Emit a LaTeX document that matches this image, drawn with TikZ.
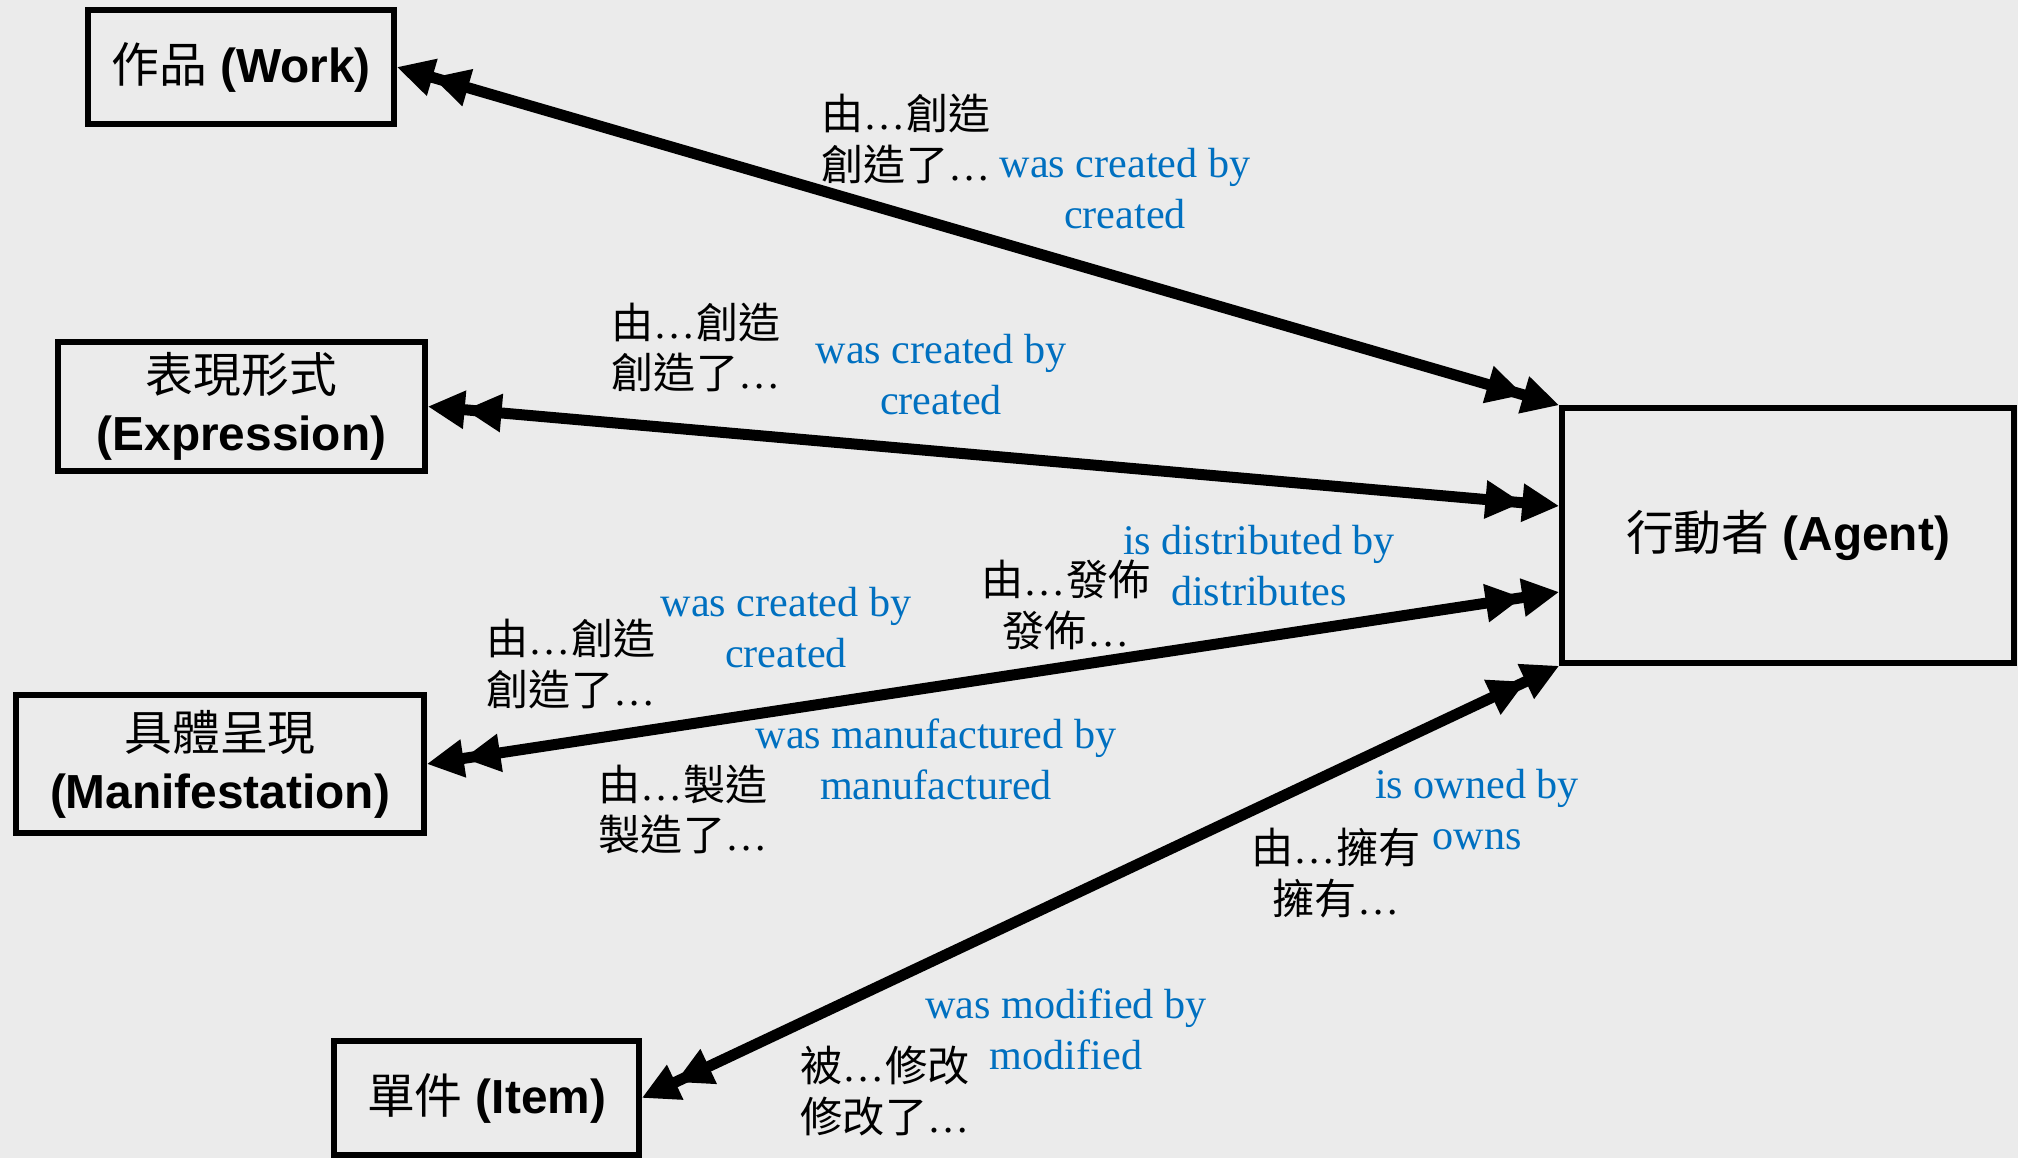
\documentclass[tikz,border=0pt]{standalone}
\usepackage{fontspec}
\setmainfont{Liberation Serif}
\setsansfont{Liberation Sans}
\newfontfamily\cjk{Noto Sans CJK TC}
\usetikzlibrary{arrows.meta}
\definecolor{paper}{RGB}{235,235,235}
\definecolor{relblue}{RGB}{0,112,192}
\newcommand\zh[1]{{\cjk\mdseries #1}}
\tikzset{
  >={Triangle[length=3.7mm,width=3.6mm]},
  entity/.style={draw,line width=0.55mm,inner sep=0pt,align=center,
    font=\sffamily\bfseries\fontsize{13.6}{16.5}\selectfont},
  rel/.style={<<->>,line width=1.1mm},
  zh label/.style={inner sep=0pt,align=#1,font=\fontsize{12}{14.5}\selectfont},
  zh label/.default=left,
  en label/.style={inner sep=0pt,align=center,text=relblue,font=\fontsize{12}{14.5}\selectfont},
}

\begin{document}
\begin{tikzpicture}
    \fill[paper,use as bounding box] (0,0) rectangle (20.18,-11.58);
    % entities
    \node[entity,minimum width=3.06cm,minimum height=1.14cm] (work) at (2.41,-0.67) {\zh{作品} (Work)};
    \node[entity,minimum width=3.67cm,minimum height=1.29cm] (expr) at (2.415,-4.065) {\zh{表現形式}\\(Expression)};
    \node[entity,minimum width=4.08cm,minimum height=1.38cm] (mani) at (2.20,-7.64) {\zh{具體呈現}\\(Manifestation)};
    \node[entity,minimum width=3.05cm,minimum height=1.14cm] (item) at (4.865,-10.98) {\zh{單件} (Item)};
    \node[entity,minimum width=4.52cm,minimum height=2.55cm] (agent) at (17.88,-5.355) {\zh{行動者} (Agent)};
    % relationships
    \draw[rel] (work.east) -- (agent.north west);
    \draw[rel] (expr.east) -- ([yshift=2.95mm]agent.west);
    \draw[rel] (mani.east) -- ([yshift=-5.65mm]agent.west);
    \draw[rel] (item.east) -- (agent.south west);
    % labels
    \node[zh label,anchor=west] (wrkzh) at (8.21,-1.395) {\zh{由}…\zh{創造}\\\zh{創造了}…};
    \node[en label] (wrken) at (11.25,-1.885) {was created by\\created};
    \node[zh label,anchor=west] (exprzh) at (6.11,-3.475) {\zh{由}…\zh{創造}\\\zh{創造了}…};
    \node[en label] (expren) at (9.41,-3.745) {was created by\\created};
    \node[zh label,anchor=west] (manizh) at (4.86,-6.64) {\zh{由}…\zh{創造}\\\zh{創造了}…};
    \node[en label] (manien) at (7.86,-6.28) {was created by\\created};
    \node[zh label=center] (distzh) at (10.66,-6.05) {\zh{由}…\zh{發佈}\\\zh{發佈}…};
    \node[en label] (disten) at (12.59,-5.66) {is distributed by\\distributes};
    \node[zh label,anchor=west] (mfgzh) at (5.98,-8.095) {\zh{由}…\zh{製造}\\\zh{製造了}…};
    \node[en label] (mfgen) at (9.36,-7.59) {was manufactured by\\manufactured};
    \node[zh label=center] (ownzh) at (13.36,-8.73) {\zh{由}…\zh{擁有}\\\zh{擁有}…};
    \node[en label] (ownen) at (14.77,-8.095) {is owned by\\owns};
    \node[zh label,anchor=west] (modzh) at (8.00,-10.915) {\zh{被}…\zh{修改}\\\zh{修改了}…};
    \node[en label] (moden) at (10.66,-10.295) {was modified by\\modified};
\end{tikzpicture}
\end{document}
